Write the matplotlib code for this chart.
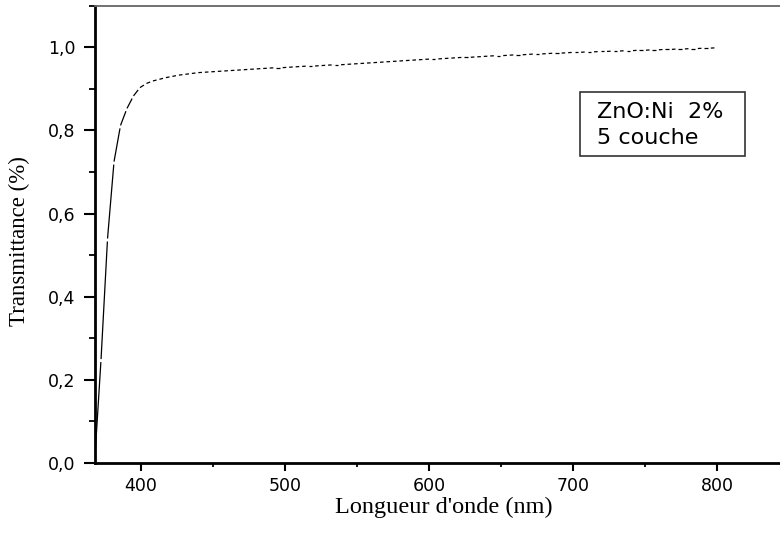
import numpy as np
import matplotlib
matplotlib.use("Agg")
import matplotlib.pyplot as plt
from matplotlib.collections import LineCollection
from matplotlib.patches import Rectangle
from matplotlib.ticker import MultipleLocator, FuncFormatter

# Optical transmittance of a ZnO:Ni 2% film (5 layers), sampled every 4.5 nm
wavelength = np.arange(368.0, 800.1, 4.5)
transmittance = [
    0.000, 0.250, 0.540, 0.725, 0.812, 0.853, 0.883, 0.903, 0.913, 0.919,
    0.923, 0.927, 0.930, 0.933, 0.935, 0.937, 0.939, 0.940, 0.941, 0.942,
    0.943, 0.944, 0.945, 0.946, 0.947, 0.948, 0.949, 0.950, 0.951, 0.951,
    0.952, 0.953, 0.954, 0.955, 0.955, 0.956, 0.957, 0.958, 0.958, 0.959,
    0.960, 0.961, 0.962, 0.963, 0.964, 0.965, 0.966, 0.967, 0.968, 0.969,
    0.970, 0.971, 0.972, 0.972, 0.973, 0.974, 0.975, 0.976, 0.976, 0.977,
    0.978, 0.979, 0.980, 0.980, 0.981, 0.982, 0.982, 0.983, 0.984, 0.984,
    0.985, 0.986, 0.986, 0.987, 0.988, 0.988, 0.989, 0.989, 0.990, 0.990,
    0.991, 0.991, 0.992, 0.992, 0.993, 0.993, 0.994, 0.994, 0.995, 0.995,
    0.996, 0.996, 0.997, 0.997, 0.998, 0.998, 0.999,
]
sample_lines = ["ZnO:Ni  2%", "5 couche"]
x_label = "Longueur d'onde (nm)"
y_label = "Transmittance (%)"

W, H = 780, 536
fig = plt.figure(figsize=(W / 100, H / 100), dpi=100)
ax = fig.add_axes([95 / W, 73 / H, 694.4 / W, 457.3 / H])
ax.set_xlim(368.3, 850)
ax.set_ylim(0, 1.1)

# Curve drawn as one short stroke per sampling interval, with a small gap
# before the next sample point
pts = ax.transData.transform(np.column_stack([wavelength, transmittance]))
segs = []
gap = 3.0
for p0, p1 in zip(pts[:-1], pts[1:]):
    d = p1 - p0
    L = np.hypot(*d)
    g = min(gap, 0.45 * L)
    segs.append([p0, p1 - d / L * g])
inv = ax.transData.inverted()
segs = [inv.transform(np.array(s)) for s in segs]
ax.add_collection(LineCollection(segs, colors="black", linewidths=0.9,
                                 capstyle="butt"))

# Frame
for side in ("left", "bottom"):
    ax.spines[side].set_linewidth(2.0)
    ax.spines[side].set_color("black")
ax.spines["top"].set_color("#666666")
ax.spines["top"].set_linewidth(1.3)
ax.spines["right"].set_visible(False)

# Ticks
ax.xaxis.set_major_locator(MultipleLocator(100))
ax.xaxis.set_minor_locator(MultipleLocator(50))
ax.yaxis.set_major_locator(MultipleLocator(0.2))
ax.yaxis.set_minor_locator(MultipleLocator(0.1))
ax.yaxis.set_major_formatter(FuncFormatter(lambda v, p: f"{v:.1f}".replace(".", ",")))
ax.tick_params(axis="y", which="major", direction="out", length=8, width=1.5,
               pad=6, labelsize=12.5)
ax.tick_params(axis="y", which="minor", direction="out", length=4, width=1.3)
ax.tick_params(axis="x", which="major", direction="out", length=6, width=1.5,
               pad=4, labelsize=12.5)
ax.tick_params(axis="x", which="minor", direction="out", length=3, width=1.3)
ax.tick_params(top=False, right=False, which="both")
for lab in ax.get_xticklabels() + ax.get_yticklabels():
    lab.set_family("DejaVu Sans")

# Axis titles
fig.text(444 / W, 1 - 507 / H, x_label, ha="center", va="center",
         family="Liberation Serif", fontsize=17.5)
fig.text(19 / W, 1 - 241 / H, y_label, ha="center", va="center",
         rotation=90, family="Liberation Serif", fontsize=16.5)

# Sample annotation box
fig.add_artist(Rectangle((580 / W, 1 - 156 / H), 165 / W, 64 / H,
                         transform=fig.transFigure, fill=False,
                         edgecolor="#333333", linewidth=1.2))
fig.text(597 / W, 1 - 112 / H, sample_lines[0], ha="left", va="center",
         family="DejaVu Sans", fontsize=16)
fig.text(597 / W, 1 - 138 / H, sample_lines[1], ha="left", va="center",
         family="DejaVu Sans", fontsize=16)

fig.savefig("out.png", dpi=100)
